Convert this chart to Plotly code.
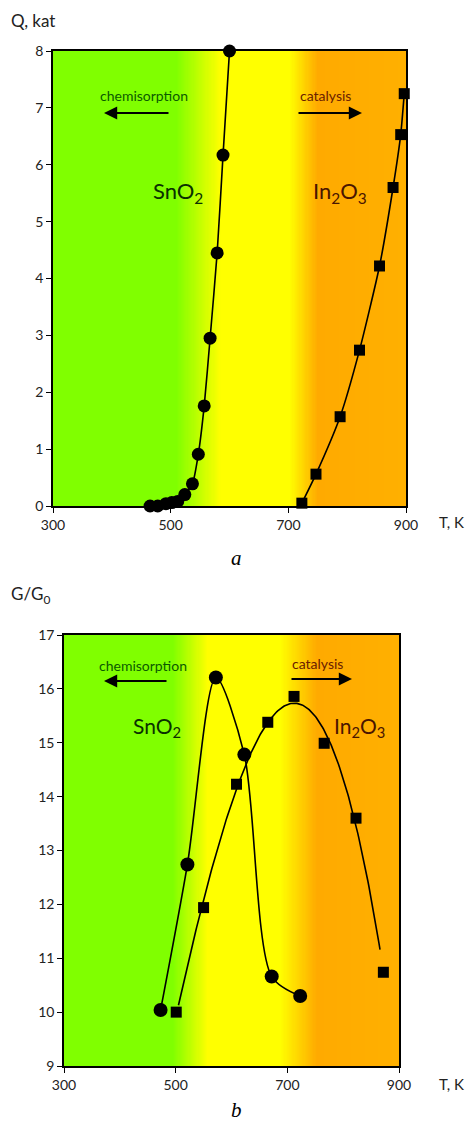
import numpy as np
import plotly.graph_objects as go

W, H = 465, 1124

# ---- Panel a data (Q, kat vs T, K)
a_sno2_T = [465, 478, 492, 502, 512, 524, 537, 547, 557, 567, 579, 589, 600]
a_sno2_Q = [0.0, 0.0, 0.04, 0.06, 0.08, 0.2, 0.39, 0.91, 1.76, 2.95, 4.45, 6.17, 8.0]
a_in2o3_T = [723, 747, 788, 821, 855, 878, 891, 897]
a_in2o3_Q = [0.05, 0.56, 1.57, 2.74, 4.22, 5.6, 6.53, 7.25]

# ---- Panel b data (G/G0 vs T, K)
b_sno2_T = [473, 521, 572, 623, 672, 723]
b_sno2_G = [10.04, 12.74, 16.21, 14.78, 10.66, 10.30]
b_in2o3_T = [501, 550, 609, 665, 712, 766, 823, 872]
b_in2o3_G = [10.0, 11.94, 14.23, 15.38, 15.86, 14.99, 13.6, 10.74]
b_fit_range = [505, 866]

x_ticks = [300, 500, 700, 900]
a_y_ticks = [0, 1, 2, 3, 4, 5, 6, 7, 8]
b_y_ticks = [9, 10, 11, 12, 13, 14, 15, 16, 17]

FONT = "Lato"

def px_x(p):
    return p / W

def px_y(p):
    return 1 - p / H

fig = go.Figure()

scale_a = [[0, '#80FF00'], [0.35, '#80FF00'], [0.475, '#FFFF00'], [0.67, '#FFFF00'],
           [0.75, '#FFAA00'], [1, '#FFB000']]
scale_b = [[0, '#80FF00'], [0.325, '#80FF00'], [0.43, '#FFFF00'], [0.645, '#FFFF00'],
           [0.755, '#FFAA00'], [1, '#FFB000']]

grad_x = np.linspace(300, 900, 301)
for xa, ya, yr, cs in [("x", "y", [0, 8], scale_a), ("x2", "y2", [9, 17], scale_b)]:
    fig.add_trace(go.Heatmap(x=grad_x, y=yr, z=[grad_x, grad_x], colorscale=cs,
                             zmin=300, zmax=900, showscale=False, hoverinfo="skip",
                             xaxis=xa, yaxis=ya))

line = dict(color="black", width=1.6)
# panel a
fig.add_trace(go.Scatter(x=a_sno2_T, y=a_sno2_Q, mode="lines+markers", line=dict(**line, shape="spline", smoothing=0.6),
                         marker=dict(symbol="circle", size=13, color="black"), cliponaxis=False,
                         xaxis="x", yaxis="y"))
fig.add_trace(go.Scatter(x=a_in2o3_T, y=a_in2o3_Q, mode="lines+markers", line=dict(**line, shape="spline", smoothing=0.6),
                         marker=dict(symbol="square", size=11, color="black"), cliponaxis=False,
                         xaxis="x", yaxis="y"))
# panel b
fig.add_trace(go.Scatter(x=b_sno2_T, y=b_sno2_G, mode="lines+markers", line=dict(**line, shape="spline", smoothing=0.8),
                         marker=dict(symbol="circle", size=14, color="black"), cliponaxis=False,
                         xaxis="x2", yaxis="y2"))
coef = np.polyfit(b_in2o3_T, b_in2o3_G, 3)
fit_T = np.linspace(b_fit_range[0], b_fit_range[1], 200)
fig.add_trace(go.Scatter(x=fit_T, y=np.polyval(coef, fit_T), mode="lines", line=line,
                         xaxis="x2", yaxis="y2"))
fig.add_trace(go.Scatter(x=b_in2o3_T, y=b_in2o3_G, mode="markers",
                         marker=dict(symbol="square", size=11, color="black"), cliponaxis=False,
                         xaxis="x2", yaxis="y2"))

axis_common = dict(showline=True, linecolor="black", linewidth=1.6, mirror=True,
                   ticks="outside", ticklen=5, tickwidth=1.4, tickcolor="black",
                   showgrid=False, zeroline=False, automargin=False,
                   tickfont=dict(family=FONT, size=14, color="#222"))

fig.update_layout(
    width=W, height=H, margin=dict(l=0, r=0, t=0, b=0, autoexpand=False),
    paper_bgcolor="white", plot_bgcolor="white", showlegend=False,
    xaxis=dict(domain=[px_x(53), px_x(406)], range=[300, 900], tickvals=x_ticks, anchor="y", **axis_common),
    yaxis=dict(domain=[px_y(506), px_y(51)], range=[0, 8], tickvals=a_y_ticks, anchor="x", **axis_common),
    xaxis2=dict(domain=[px_x(64), px_x(399)], range=[300, 900], tickvals=x_ticks, anchor="y2", **axis_common),
    yaxis2=dict(domain=[px_y(1066), px_y(635)], range=[9, 17], tickvals=b_y_ticks, anchor="x2", **axis_common),
)

ann = []
def txt(x, y, text, size=14, color="#222", family=FONT, xanchor="center"):
    ann.append(dict(x=px_x(x), y=px_y(y), xref="paper", yref="paper", text=text, showarrow=False,
                    xanchor=xanchor, yanchor="middle", font=dict(family=family, size=size, color=color)))

txt(9, 20, "Q, kat", 17, xanchor="left")
txt(437, 522, "T, K", 15, xanchor="left")
txt(237, 558, "<i>a</i>", 21, "black", "Liberation Serif")
txt(9, 595, "G/G<sub>0</sub>", 17, xanchor="left")
txt(437, 1084, "T, K", 15, xanchor="left")
txt(237, 1110, "<i>b</i>", 21, "black", "Liberation Serif")

# region labels
txt(144, 96, "chemisorption", 14, "#0b5a00")
txt(325, 95, "catalysis", 14, "#6a2000")
txt(178, 192, "SnO<sub>2</sub>", 22, "#0a3000")
txt(340, 192, "In<sub>2</sub>O<sub>3</sub>", 22, "#4a1500")
txt(143, 665, "chemisorption", 14, "#0b5a00")
txt(317, 663, "catalysis", 14, "#6a2000")
txt(157, 727, "SnO<sub>2</sub>", 21, "#0a3000")
txt(359, 727, "In<sub>2</sub>O<sub>3</sub>", 21, "#4a1500")

def arrow(x0, x1, y):
    ann.append(dict(x=px_x(x1), y=px_y(y), ax=x0 - x1, ay=0, xref="paper", yref="paper",
                    axref="pixel", ayref="pixel", text="", showarrow=True, arrowhead=2,
                    arrowsize=1.2, arrowwidth=2.2, arrowcolor="black"))

arrow(170, 104, 113)
arrow(297, 362, 113)
arrow(168, 104, 681)
arrow(290, 352, 679)

fig.update_layout(annotations=ann)
fig.write_html("out.html", config={"displayModeBar": False},
               post_script="document.body.style.margin='0px';document.body.style.overflow='hidden';")
